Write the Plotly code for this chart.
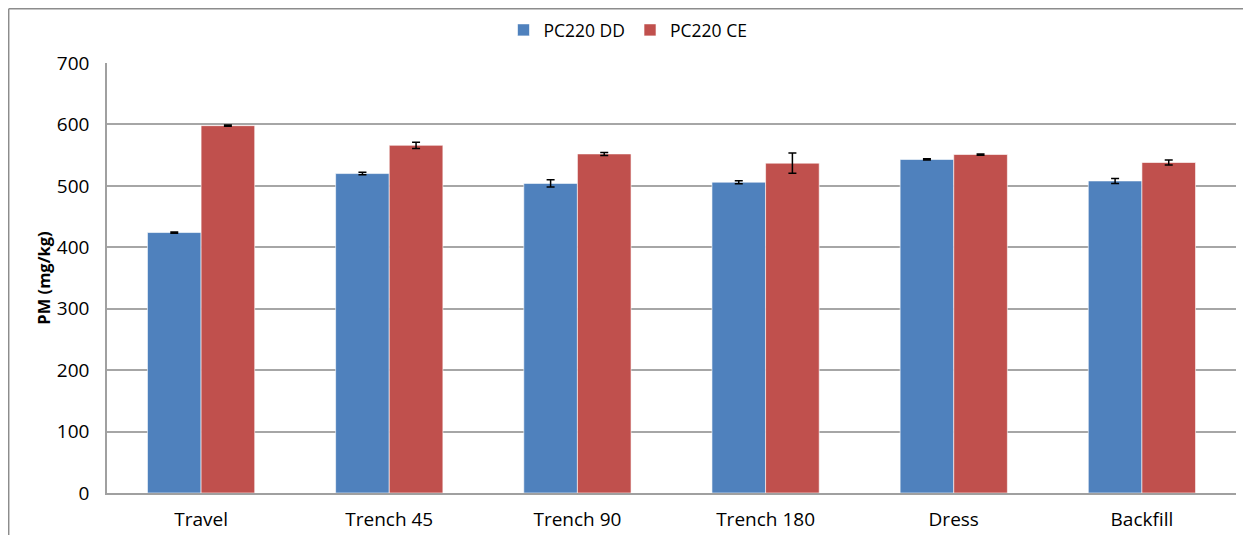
import plotly.graph_objects as go

categories = ['Travel', 'Trench 45', 'Trench 90', 'Trench 180', 'Dress', 'Backfill']
dd_values = [424, 520, 504, 506, 543, 508]
dd_errors = [1, 2, 6, 2.5, 1, 4]
ce_values = [598, 566, 552, 537, 551, 538]
ce_errors = [1, 5, 2.5, 16.5, 1, 4]

font_family = "Open Sans, Noto Sans, sans-serif"

# the page puts the figure 8px in from the top-left corner, so margins are shifted by that
PAGE_OFFSET = 8

fig = go.Figure()
fig.add_trace(go.Bar(
    x=categories, y=dd_values, name='PC220 DD',
    marker=dict(color='#4F81BD', line=dict(color='rgba(255,255,255,0.6)', width=1)),
    error_y=dict(type='data', array=dd_errors, color='black', thickness=1.5, width=4),
))
fig.add_trace(go.Bar(
    x=categories, y=ce_values, name='PC220 CE',
    marker=dict(color='#C0504D', line=dict(color='rgba(255,255,255,0.6)', width=1)),
    error_y=dict(type='data', array=ce_errors, color='black', thickness=1.5, width=4),
))

# frame lines (page px -> paper coords; plot area spans x 107..1236, y 63..493 on the page)
def px_x(p):
    return (p - 107) / 1129.0

def px_y(p):
    return (493 - p) / 430.0

frame = [
    (8.7, 8.7, 1251, 8.7),
    (8.7, 8.7, 8.7, 545),
]
shapes = []
for x0, y0, x1, y1 in frame:
    shapes.append(dict(type='line', xref='paper', yref='paper',
                       x0=px_x(x0), y0=px_y(y0), x1=px_x(x1), y1=px_y(y1),
                       line=dict(color='#8c8c8c', width=1.5)))

W, H = 1251, 535
fig.update_layout(
    width=W, height=H,
    margin=dict(l=107 - PAGE_OFFSET, r=W - 1236 + PAGE_OFFSET,
                t=63 - PAGE_OFFSET, b=H - 493 + PAGE_OFFSET, autoexpand=False),
    paper_bgcolor='white', plot_bgcolor='white',
    barmode='group', bargap=0.43, bargroupgap=0,
    font=dict(family=font_family, size=18, color='black'),
    legend=dict(orientation='h', x=(628 - PAGE_OFFSET) / W, xanchor='center', xref='container',
                y=1 - (30 - PAGE_OFFSET) / H, yanchor='middle', yref='container',
                bgcolor='rgba(0,0,0,0)',
                font=dict(size=17.5), itemwidth=30, traceorder='normal'),
    shapes=shapes,
    showlegend=True,
)
fig.update_xaxes(showline=True, linecolor='#a0a0a0', linewidth=1.5, ticks='',
                 showgrid=False, tickfont=dict(size=19), ticklabelstandoff=8)
fig.update_yaxes(range=[0, 700], dtick=100, showline=True, linecolor='#a0a0a0', linewidth=1.5,
                 gridcolor='#a6a6a6', gridwidth=1.5, ticks='', zeroline=False,
                 tickfont=dict(size=19), ticklabelstandoff=12,
                 title=dict(text='<b>PM (mg/kg)</b>', font=dict(size=16.5), standoff=2))

fig.write_html("out.html")
